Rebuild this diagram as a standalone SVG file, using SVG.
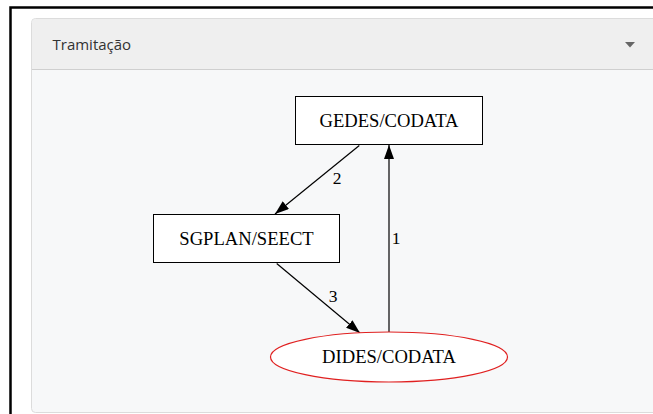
<svg xmlns="http://www.w3.org/2000/svg" width="653" height="414" viewBox="0 0 653 414">
<style>
.node{fill:#ffffff;stroke:#000;stroke-width:1}
.lbl{font-family:"Liberation Serif","Times New Roman",serif;font-size:18.6px;fill:#000;text-anchor:middle}
.elbl{font-family:"Liberation Serif","Times New Roman",serif;font-size:17.5px;fill:#000;text-anchor:middle}
.edge{stroke:#000;stroke-width:1.2;fill:none}
</style>
<defs>
<marker id="ah" markerWidth="14" markerHeight="10" refX="14" refY="5" orient="auto" markerUnits="userSpaceOnUse">
<path d="M0,0 L14,5 L0,10 Z" fill="#000"/>
</marker>
</defs>
<rect x="0" y="0" width="653" height="414" fill="#ffffff"/>
<path d="M10.5,414 V7.5 H653" fill="none" stroke="#000" stroke-width="2.5"/>
<g id="panel">
<rect x="31.5" y="18.5" width="640" height="394" rx="4" fill="#f7f8f9" stroke="#dcdcdc"/>
<path d="M32,69 V23 a4,4 0 0 1 4,-4 H653 V69 Z" fill="#efefef"/>
<line x1="32" y1="69.5" x2="653" y2="69.5" stroke="#cfcfcf" stroke-width="1"/>
<text x="52.5" y="50" font-family="'Open Sans','Noto Sans',sans-serif" font-size="15px" fill="#333">Tramitação</text>
<path d="M625,42 L635,42 L630,47.5 Z" fill="#666"/>
</g>
<g id="connectors">
<line class="edge" x1="389" y1="332" x2="389" y2="145" marker-end="url(#ah)" stroke="#444"/>
<line class="edge" x1="359.3" y1="145.5" x2="275" y2="214" marker-end="url(#ah)"/>
<line class="edge" x1="276.7" y1="263.5" x2="360" y2="333" marker-end="url(#ah)"/>
<text class="elbl" x="396" y="244">1</text>
<text class="elbl" x="337" y="184">2</text>
<text class="elbl" x="333" y="302">3</text>
</g>
<g id="gedes">
<rect class="node" x="295.5" y="96.5" width="187" height="48"/>
<text class="lbl" x="389" y="126.5">GEDES/CODATA</text>
</g>
<g id="sgplan">
<rect class="node" x="153.5" y="214.5" width="186" height="48"/>
<text class="lbl" x="246.5" y="244.5">SGPLAN/SEECT</text>
</g>
<g id="dides">
<ellipse cx="389" cy="357" rx="118.5" ry="25" fill="#fff" stroke="#e02020" stroke-width="1.2"/>
<text class="lbl" x="389" y="362.5">DIDES/CODATA</text>
</g>
</svg>
